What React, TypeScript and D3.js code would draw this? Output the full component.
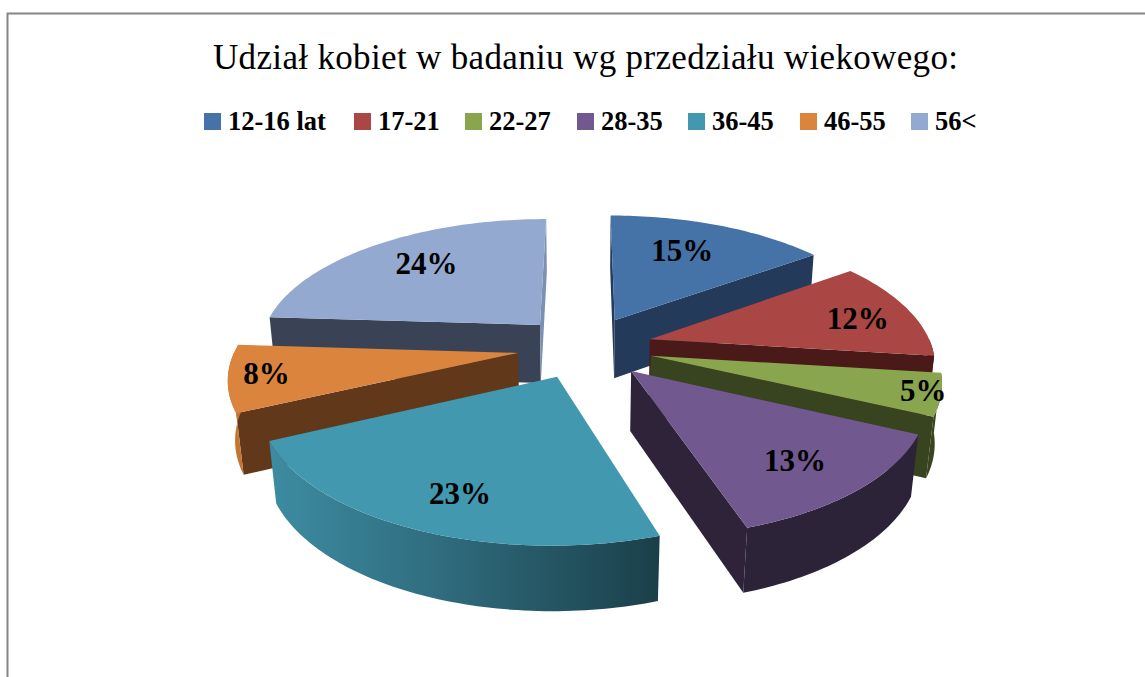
import React from 'react'
import * as d3 from 'd3'

const categories = ['12-16 lat', '17-21', '22-27', '28-35', '36-45', '46-55', '56<']
const shares = [15, 12, 5, 13, 23, 8, 24]
const topColors = ['#4573a7', '#aa4643', '#89a54e', '#71588f', '#4198af', '#db843d', '#93a9cf']
const faceColors = ['#233a5a', '#4a1a18', '#38431f', '#2e2339', '#2e6a7c', '#61381a', '#3a4355']
const rimColors = ['#233a5a', '#4a1a18', '#3a4520', '#2d2339', 'url(#tealRim)', '#c4762f', '#7c90b4']
const legendBoxX = [204, 354, 465, 577, 688, 800, 911]
// where each percent label sits inside its slice: radius, and degrees off the mid line
const labelRadius = [0.7, 0.79, 0.94, 0.76, 0.78, 0.87, 0.72]
const labelShift = [-3, 2, -1, 1, -2.5, 1, 3]

const cx = 585
const cy = 347
const rx = 282
const ry = 130
const persp = 0.165
const perspZ = 0.02
const depth = 60
const explode = 0.24

const HALF = Math.PI / 2

type Pt = [number, number]

const project = (mid: number, theta: number, r: number, z: number): Pt => {
  const x = r * Math.sin(theta) + explode * Math.sin(mid)
  const y = r * Math.cos(theta) + explode * Math.cos(mid)
  const w = 1 / (1 + persp * y + perspZ * z)
  return [cx + rx * x * w, cy - ry * y * w + depth * z * Math.pow(w, 0.8)]
}

const line = d3.line<Pt>()

const arcPoints = (mid: number, a: number, b: number, z: number): Pt[] => {
  const n = Math.max(2, Math.ceil((b - a) / 0.02))
  return d3.range(n + 1).map(i => project(mid, a + ((b - a) * i) / n, 1, z))
}

const pie = d3.pie<number>().sort(null).value(d => d)
const slices = pie(shares).map((s, i) => ({
  ...s,
  i,
  mid: (s.startAngle + s.endAngle) / 2,
}))
const drawOrder = [...slices].sort((a, b) => Math.cos(b.mid) - Math.cos(a.mid))

const cross = (p: Pt[]) =>
  (p[1][0] - p[0][0]) * (p[2][1] - p[1][1]) - (p[1][1] - p[0][1]) * (p[2][0] - p[1][0])

const radialFace = (mid: number, theta: number): Pt[] => [
  project(mid, theta, 0, 0),
  project(mid, theta, 1, 0),
  project(mid, theta, 1, 1),
  project(mid, theta, 0, 1),
]

const Slice = ({ s }: { s: (typeof slices)[number] }) => {
  const start = radialFace(s.mid, s.startAngle)
  const end = radialFace(s.mid, s.endAngle)
  const rimFrom = Math.max(s.startAngle, HALF)
  const rimTo = Math.min(s.endAngle, 3 * HALF)
  const rim =
    rimTo > rimFrom
      ? [...arcPoints(s.mid, rimFrom, rimTo, 0), ...arcPoints(s.mid, rimFrom, rimTo, 1).reverse()]
      : null
  const top = [project(s.mid, 0, 0, 0), ...arcPoints(s.mid, s.startAngle, s.endAngle, 0)]
  return (
    <g>
      {cross(start) < 0 && <path d={line(start) + 'Z'} fill={faceColors[s.i]} />}
      {cross(end) > 0 && <path d={line(end) + 'Z'} fill={s.i === 6 ? rimColors[6] : faceColors[s.i]} />}
      {rim && <path d={line(rim) + 'Z'} fill={rimColors[s.i]} />}
      <path d={line(top) + 'Z'} fill={topColors[s.i]} />
    </g>
  )
}

const labelPos = (s: (typeof slices)[number]) =>
  project(s.mid, s.mid + (labelShift[s.i] * Math.PI) / 180, labelRadius[s.i], 0)

export default function App() {
  return (
    <svg
      width={1145}
      height={677}
      style={{ position: 'absolute', left: 0, top: 0, background: '#fff' }}
      fontFamily="'Liberation Serif', serif"
    >
      <defs>
        <linearGradient id="tealRim" x1="0" x2="1" y1="0" y2="0">
          <stop offset="0" stopColor="#3d8ca2" />
          <stop offset="0.45" stopColor="#2f6b7d" />
          <stop offset="1" stopColor="#1a3f49" />
        </linearGradient>
      </defs>
      <path d="M7.5,677V13.5H1145" fill="none" stroke="#868686" strokeWidth={2} />
      <text x={213} y={69} fontSize={35} textLength={745} fill="#000">
        Udział kobiet w badaniu wg przedziału wiekowego:
      </text>
      {categories.map((c, i) => (
        <g key={c}>
          <rect x={legendBoxX[i]} y={113} width={17} height={17} fill={topColors[i]} />
          <text x={legendBoxX[i] + 24} y={130} fontSize={26.5} fontWeight="bold" fill="#000">
            {c}
          </text>
        </g>
      ))}
      {drawOrder.map(s => (
        <Slice key={s.i} s={s} />
      ))}
      {slices.map(s => {
        const [x, y] = labelPos(s)
        return (
          <text key={s.i} x={x} y={y} textAnchor="middle" dy="0.35em" fontSize={31} fontWeight="bold" fill="#000">
            {shares[s.i]}%
          </text>
        )
      })}
    </svg>
  )
}
